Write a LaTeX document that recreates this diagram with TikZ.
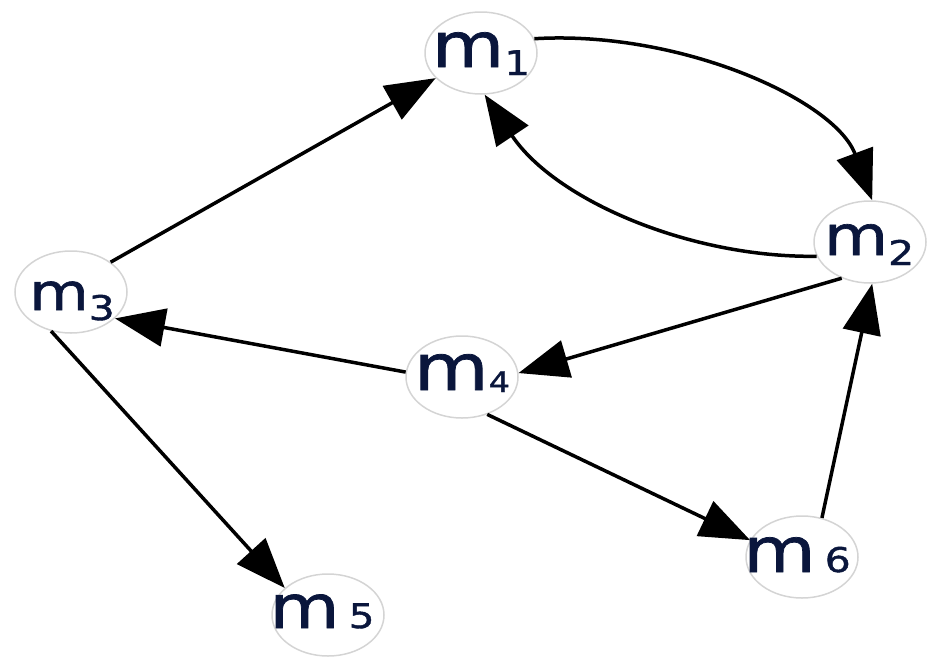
\documentclass[tikz,border=0pt]{standalone}
\usepackage{fontspec}
\usetikzlibrary{arrows.meta,shapes.geometric}
\newfontfamily\lblfont[FakeStretch=1.2,FakeBold=1.2]{DejaVu Sans}
\definecolor{txtnavy}{RGB}{10,22,60}
\definecolor{ringgray}{RGB}{212,212,212}
\newcommand\mlab[5]{{\fontsize{#1}{#1}\selectfont m}\kern#4pt\raisebox{-#3pt}{\fontsize{#5}{#5}\selectfont #2}}
\begin{document}
\begin{tikzpicture}[x=1pt,y=-1pt,
  st/.style={ellipse,draw=ringgray,line width=1.5pt,minimum width=112pt,minimum height=82pt,inner sep=0pt},
  tx/.style={anchor=base,inner sep=0pt,text=txtnavy,font=\lblfont},
  edge/.style={line width=3.5pt,-{Triangle[length=50pt,width=38pt]}}]
\useasboundingbox (0,0) rectangle (941,670);
\node[st] (m1) at (481,53) {};
\node[st] (m2) at (870,242) {};
\node[st] (m3) at (71,292) {};
\node[st] (m4) at (462,377) {};
\node[st] (m5) at (328,615) {};
\node[st] (m6) at (802,557) {};
\node[tx] (l1) at (481,67) {\mlab{62}{1}{8}{0}{34}};
\node[tx] (l2) at (869,255) {\mlab{55}{2}{10}{0}{34}};
\node[tx] (l3) at (72,310) {\mlab{51}{3}{10}{0}{34}};
\node[tx] (l4) at (462,390) {\mlab{64}{4}{2}{0}{28}};
\node[tx] (l5) at (322,628) {\mlab{60}{5}{0}{9}{34}};
\node[tx] (l6) at (797,572) {\mlab{62}{6}{0}{9}{34}};
\draw[edge] (m1.15) .. controls (680,30) and (835,100) .. (m2.87);
\draw[edge] (m2.195) .. controls (690,258) and (555,200) .. (m1.275);
\draw[edge] (m3.37) -- (m1.209);
\draw[edge] (m2.232) -- (m4.4);
\draw[edge] (m4.175) -- (m3.329);
\draw[edge] (m3.243) -- (m5.148);
\draw[edge] (m4.304) -- (m6.162);
\draw[edge] (m6.63) -- (m2.273);
\end{tikzpicture}
\end{document}
